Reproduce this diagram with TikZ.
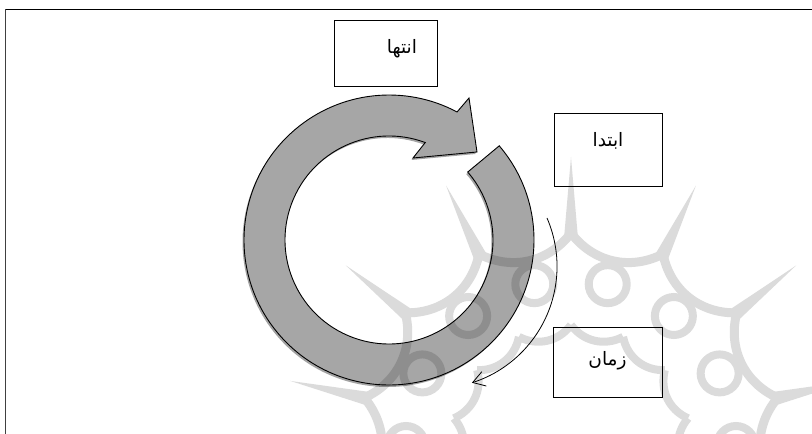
\documentclass[tikz,border=0pt]{standalone}
\usepackage{fontspec}
\newfontfamily\arabicfont[Script=Arabic]{DejaVu Sans}
\TeXXeTstate=1
\usetikzlibrary{arrows.meta,shadows}
\definecolor{ringgray}{RGB}{166,166,166}
\begin{document}
\begin{tikzpicture}[x=1pt,y=1pt,
  box/.style={draw=black, line width=0.9pt, fill=white, inner sep=0pt,
    font=\arabicfont\fontsize{18.5}{21}\selectfont, text height=17pt, text depth=9pt},
  ring/.style={fill=ringgray, draw=black, line width=0.9pt},
  frameline/.style={line width=1.2pt},
  timearrow/.style={draw=black, line width=0.8pt, -{Straight Barb[length=12pt,width=15pt,line width=0.8pt]}},
  wm/.style={black}
]
\useasboundingbox (0,0) rectangle (812,434);
\fill[white] (0,0) rectangle (812,434);

% frame
\draw[frameline, black!75] (5.5,0) -- (5.5,424.5);
\draw[frameline] (5.5,424.5) -- (812,424.5);

% circular arrow
\coordinate (C) at (389,194);
\path[ring, drop shadow={shadow xshift=-1.5pt, shadow yshift=-2pt, opacity=0.6, fill=black!60}]
  ([shift={(40.5:145)}]C) arc[start angle=40.5, end angle=-298, radius=145]
  -- (469,336) -- (477,282) -- (413,276)
  -- ([shift={(69.6:104)}]C) arc[start angle=69.6, end angle=400.8, radius=104]
  -- cycle;

% boxes
\node[box, minimum width=103pt, minimum height=66pt, text width=63pt, align=right,
      inner xsep=20pt, text depth=15pt] (end) at (385.5,381) {\beginR انتها\endR};
\node[box, minimum width=108pt, minimum height=73pt, text depth=22pt] (start) at (608,284.5) {\beginR ابتدا\endR};
\node[box, minimum width=109pt, minimum height=70pt] (time) at (607.5,72) {\beginR زمان\endR};

% time arrow
\coordinate (ts) at (547,216);
\draw[timearrow] (ts) arc[start angle=23.4, end angle=-72.4, radius=122];

% watermark
\begin{scope}[transparency group, opacity=0.14]
\clip (0,0) rectangle (812,434);
\coordinate (O) at (571,-11);
\foreach \k in {0,...,13}{
  \pgfmathsetmacro\a{90+\k*360/14}
  \pgfmathsetmacro\b{\a+360/14}
  \pgfmathsetmacro\m{\a+180/14}
  \fill[wm] ([shift={(\a-2:205)}]O) -- ([shift={(\a:288)}]O) -- ([shift={(\a+2:205)}]O) -- cycle;
  \draw[wm, line width=9pt] ([shift={(\a:212)}]O) to[bend left=40] ([shift={(\b:212)}]O);
  \draw[wm, line width=8pt] ([shift={(\m:165)}]O) circle[radius=19];
  \draw[wm, line width=8pt] ([shift={(\a:120)}]O) to[bend left=40] ([shift={(\b:120)}]O);
}
\end{scope}
\end{tikzpicture}
\end{document}
